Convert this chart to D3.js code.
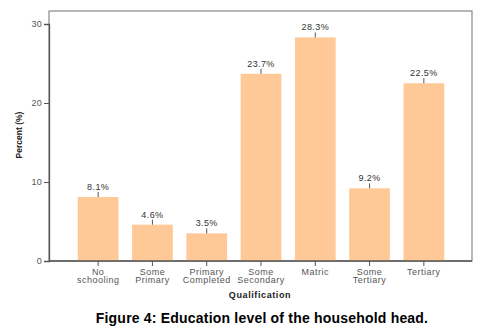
<!DOCTYPE html>
<html><head><meta charset="utf-8">
<script src="https://cdn.jsdelivr.net/npm/d3@7"></script>
<style>body{margin:0;background:#fff}svg{display:block}</style>
</head><body>
<script>
const categories = [["No","schooling"],["Some","Primary"],["Primary","Completed"],["Some","Secondary"],["Matric"],["Some","Tertiary"],["Tertiary"]];
const values = [8.1, 4.6, 3.5, 23.7, 28.3, 9.2, 22.5];
const yTicks = [0, 10, 20, 30];

const W = 498, H = 331;
const FF = "Arial, 'Liberation Sans', sans-serif";
const svg = d3.select("body").append("svg").attr("width", W).attr("height", H)
  .style("font-family", FF);

const fx0 = 49, fx1 = 472, fy0 = 11, fy1 = 261;
const x = d3.scaleBand().domain(d3.range(categories.length)).range([71, 451]).paddingInner(0.25).paddingOuter(0.125);
const y = d3.scaleLinear().domain([0, 30]).range([261, 24]);

// frame
svg.append("rect").attr("x", fx0).attr("y", fy0).attr("width", fx1 - fx0).attr("height", fy1 - fy0)
  .attr("fill", "none").attr("stroke", "#888").attr("stroke-width", 1.2);

// bars
svg.selectAll("rect.bar").data(values).join("rect").attr("class", "bar")
  .attr("x", (d, i) => x(i)).attr("width", x.bandwidth())
  .attr("y", d => y(d)).attr("height", d => y(0) - y(d))
  .attr("fill", "#fec997");

// connector marks
svg.selectAll("line.mk").data(values).join("line").attr("class", "mk")
  .attr("x1", (d, i) => x(i) + x.bandwidth() / 2).attr("x2", (d, i) => x(i) + x.bandwidth() / 2)
  .attr("y1", d => y(d)).attr("y2", d => y(d) - 5)
  .attr("stroke", "#555").attr("stroke-width", 1);

svg.selectAll("text.vl").data(values).join("text").attr("class", "vl")
  .attr("x", (d, i) => x(i) + x.bandwidth() / 2).attr("y", d => y(d) - 7)
  .attr("text-anchor", "middle").attr("font-size", 9).attr("letter-spacing", 0.4).attr("fill", "#333")
  .text(d => d.toFixed(1) + "%");

// y axis
const ya = svg.append("g").attr("transform", `translate(${fx0},0)`)
  .call(d3.axisLeft(y).tickValues(yTicks).tickSize(5).tickPadding(2));
ya.select(".domain").attr("stroke", "#555").attr("stroke-width", 1.3);
ya.selectAll(".tick line").attr("stroke", "#555");
ya.selectAll(".tick text").attr("font-size", 9).attr("letter-spacing", 0.3).attr("fill", "#555").attr("font-family", FF);

// x axis
const xa = svg.append("g").attr("transform", `translate(0,${fy1})`)
  .call(d3.axisBottom(x).tickSize(5).tickFormat(""));
xa.select(".domain").remove();
xa.selectAll(".tick line").attr("stroke", "#555");
svg.append("line").attr("x1", fx0).attr("x2", fx1).attr("y1", fy1).attr("y2", fy1).attr("stroke", "#555").attr("stroke-width", 1.3);

svg.selectAll("text.cat").data(categories).join("text").attr("class", "cat")
  .attr("x", (d, i) => x(i) + x.bandwidth() / 2).attr("y", 274.5)
  .attr("text-anchor", "middle").attr("font-size", 9).attr("letter-spacing", 0.5).attr("fill", "#555")
  .selectAll("tspan").data(d => d).join("tspan")
  .attr("x", function() { return d3.select(this.parentNode).attr("x"); })
  .attr("dy", (d, j) => j === 0 ? 0 : 8.7).text(d => d);

svg.append("text").attr("x", 260).attr("y", 298).attr("text-anchor", "middle")
  .attr("font-size", 9).attr("font-weight", "bold").attr("letter-spacing", 0.6).attr("fill", "#222").text("Qualification");

svg.append("text").attr("transform", "translate(22,135) rotate(-90)").attr("text-anchor", "middle")
  .attr("font-size", 8.5).attr("font-weight", "bold").attr("fill", "#222").text("Percent (%)");

svg.append("text").attr("x", 262).attr("y", 323).attr("text-anchor", "middle")
  .attr("font-size", 14).attr("font-weight", "bold").attr("letter-spacing", 0.2).attr("fill", "#000")
  .text("Figure 4: Education level of the household head.");
</script>
</body></html>
